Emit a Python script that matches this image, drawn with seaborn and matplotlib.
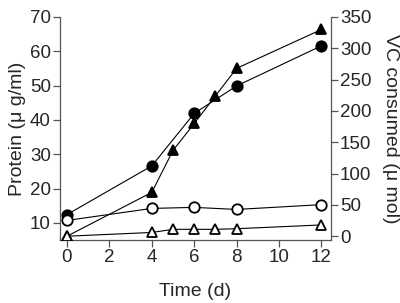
import numpy as np
import pandas as pd
import matplotlib
matplotlib.use("Agg")
import matplotlib.pyplot as plt
import seaborn as sns

# data
days_circ = [0, 4, 6, 8, 12]
protein_filled = [12.4, 26.6, 41.9, 49.9, 61.6]
protein_open = [10.7, 14.2, 14.5, 13.9, 15.3]

days_tri = [0, 4, 5, 6, 7, 8, 12]
vc_filled = [0, 70, 137, 180, 224, 268, 330]
vc_open = [0, 6, 11, 11, 11, 12, 18]

sns.set_style("ticks")
plt.rcParams['font.family'] = ['Liberation Sans', 'DejaVu Sans']

fig = plt.figure(figsize=(4.0, 3.03), dpi=100)
ax = fig.add_axes([0.15, 0.208, 0.6775, 0.736])
ax2 = ax.twinx()

df1 = pd.DataFrame({"t": days_circ, "a": protein_filled, "b": protein_open})
df2 = pd.DataFrame({"t": days_tri, "a": vc_filled, "b": vc_open})

kw = dict(color="black", linewidth=0.8, markersize=7.5, markeredgewidth=1.3)
sns.lineplot(data=df1, x="t", y="a", ax=ax, marker="o", markerfacecolor="black",
             markeredgecolor="black", **kw)
sns.lineplot(data=df1, x="t", y="b", ax=ax, marker="o", markerfacecolor="white",
             markeredgecolor="black", **kw)
sns.lineplot(data=df2, x="t", y="a", ax=ax2, marker="^", markerfacecolor="black",
             markeredgecolor="black", **kw)
sns.lineplot(data=df2, x="t", y="b", ax=ax2, marker="^", markerfacecolor="white",
             markeredgecolor="black", **kw)

ax.set_xlim(-0.33, 12.45)
ax.set_ylim(5, 70)
ax2.set_ylim(-6, 350)
ax.set_xticks([0, 2, 4, 6, 8, 10, 12])
ax.set_yticks([10, 20, 30, 40, 50, 60, 70])
ax2.set_yticks([0, 50, 100, 150, 200, 250, 300, 350])

ax.set_xlabel("Time (d)", fontsize=14, labelpad=12)
ax.set_ylabel("Protein (\u03bc g/ml)", fontsize=14, labelpad=3)
ax2.set_ylabel("VC consumed (\u03bc mol)", fontsize=14, rotation=270, labelpad=20)

for a in (ax, ax2):
    a.tick_params(labelsize=13.5, length=5, width=0.9, color="#555555", pad=1.5)
    for s in a.spines.values():
        s.set_color("#555555")
        s.set_linewidth(0.9)
    a.spines["top"].set_visible(False)
ax.spines["right"].set_visible(False)
ax2.spines["left"].set_visible(False)
ax2.spines["bottom"].set_visible(False)

fig.savefig("out.png", dpi=100)
